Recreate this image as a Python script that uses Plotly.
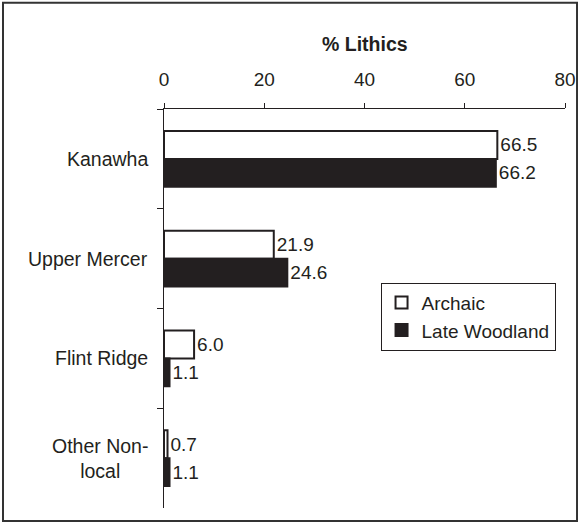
import plotly.graph_objects as go

categories = ["Kanawha", "Upper Mercer", "Flint Ridge", "Other Non-<br>local"]
archaic = [66.5, 21.9, 6.0, 0.7]
late_woodland = [66.2, 24.6, 1.1, 1.1]
x_ticks = [0, 20, 40, 60, 80]

FONT = "Liberation Sans, Arial, sans-serif"
BLACK = "#231f20"

fig = go.Figure()
fig.add_trace(go.Bar(
    y=categories, x=archaic, orientation="h", name="Archaic",
    marker=dict(color="white", line=dict(color=BLACK, width=2)),
    texttemplate="%{x:.1f}", textposition="outside", constraintext="none",
    textfont=dict(family=FONT, size=19, color=BLACK), cliponaxis=False,
))
fig.add_trace(go.Bar(
    y=categories, x=late_woodland, orientation="h", name="Late Woodland",
    marker=dict(color=BLACK, line=dict(color=BLACK, width=2)),
    texttemplate="%{x:.1f}", textposition="outside", constraintext="none",
    textfont=dict(family=FONT, size=19, color=BLACK), cliponaxis=False,
))

for c in categories:
    fig.add_annotation(
        x=0, xref="paper", y=c, yref="y", text=c, showarrow=False,
        xanchor="right", xshift=-14, align="center",
        font=dict(family=FONT, size=19.5, color=BLACK),
    )

fig.add_annotation(
    x=0.5, xref="paper", y=1.163, yref="paper", text="<b>% Lithics</b>",
    showarrow=False, xanchor="center", yanchor="middle",
    font=dict(family=FONT, size=19.5, color=BLACK),
)

fig.add_shape(
    type="rect", xref="paper", yref="paper",
    x0=-0.4015, x1=1.03, y0=-0.0326, y1=1.266,
    line=dict(color="#333333", width=2), fillcolor="rgba(0,0,0,0)",
)

fig.update_layout(
    width=578, height=525,
    margin=dict(l=164, r=13, t=109, b=17),
    paper_bgcolor="white", plot_bgcolor="white",
    barmode="group", bargap=0.44, bargroupgap=0,
    font=dict(family=FONT, size=19, color=BLACK),
    showlegend=True,
    legend=dict(
        x=0.54, y=0.565, xanchor="left", yanchor="top",
        bgcolor="white", bordercolor=BLACK, borderwidth=1,
        font=dict(family=FONT, size=19, color=BLACK),
        itemwidth=30, tracegroupgap=0,
    ),
    xaxis=dict(
        side="top", range=[0, 80], tickvals=x_ticks,
        ticks="outside", ticklen=5, tickcolor=BLACK,
        ticklabelstandoff=9, ticklabeloverflow="allow", automargin=False,
        showline=True, linecolor=BLACK, linewidth=1,
        showgrid=False, zeroline=False,
        tickfont=dict(family=FONT, size=19, color=BLACK),
    ),
    yaxis=dict(
        type="category", autorange="reversed", tickson="boundaries",
        ticks="outside", ticklen=6, tickcolor=BLACK, automargin=False,
        showline=True, linecolor=BLACK, linewidth=1,
        showgrid=False, zeroline=False, showticklabels=False,
    ),
)

fig.write_html(
    "out.html",
    config={"displayModeBar": False},
    post_script="document.body.style.margin='0';",
)
